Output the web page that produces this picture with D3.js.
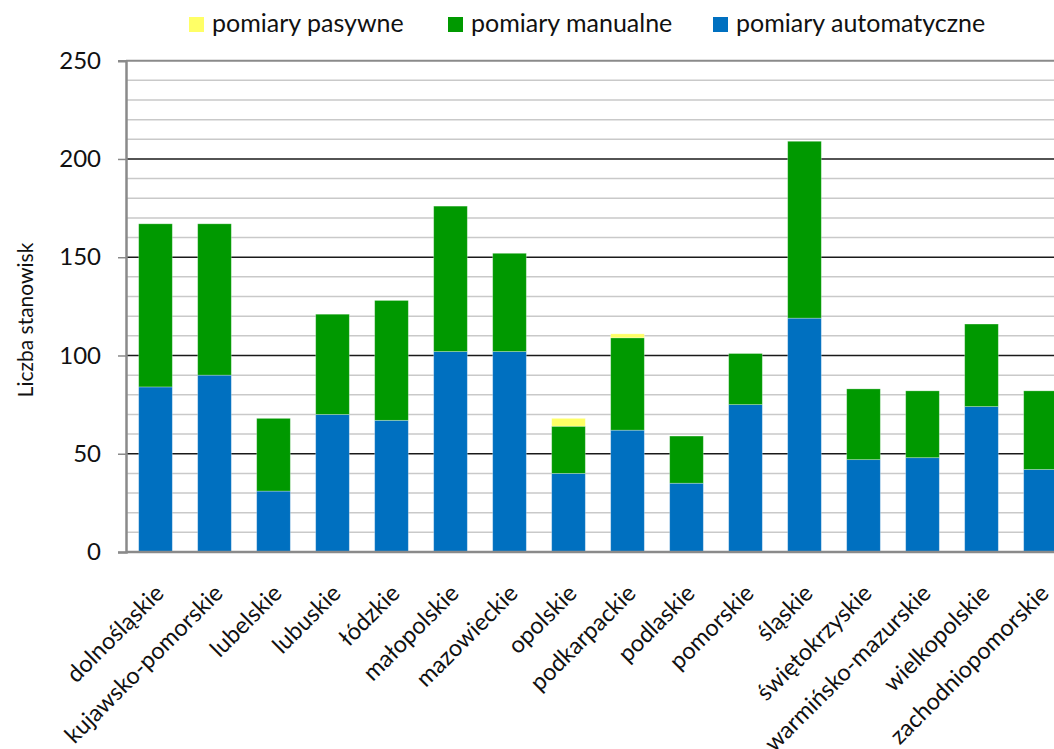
<!DOCTYPE html>
<html>
<head>
<meta charset="utf-8">
<script src="https://d3js.org/d3.v7.min.js"></script>
<style>
  body { margin: 0; background: #fff; }
  text { font-family: Lato, "Open Sans", sans-serif; fill: #111; }
</style>
</head>
<body>
<svg width="1054" height="749"></svg>
<script>
// data
var regions = ["dolnośląskie", "kujawsko-pomorskie", "lubelskie", "lubuskie", "łódzkie",
  "małopolskie", "mazowieckie", "opolskie", "podkarpackie", "podlaskie", "pomorskie",
  "śląskie", "świętokrzyskie", "warmińsko-mazurskie", "wielkopolskie", "zachodniopomorskie"];
var automatyczne = [84, 90, 31, 70, 67, 102, 102, 40, 62, 35, 75, 119, 47, 48, 74, 42];
var manualne     = [83, 77, 37, 51, 61, 74, 50, 24, 47, 24, 26, 90, 36, 34, 42, 40];
var pasywne      = [0, 0, 0, 0, 0, 0, 0, 4, 2, 0, 0, 0, 0, 0, 0, 0];
var yTicks = [0, 50, 100, 150, 200, 250];

var series = [
  {key: "automatyczne", label: "pomiary automatyczne", color: "#0070C0", values: automatyczne},
  {key: "manualne", label: "pomiary manualne", color: "#009900", values: manualne},
  {key: "pasywne", label: "pomiary pasywne", color: "#FFFF66", values: pasywne}
];

var svg = d3.select("svg");

// plot area (runs past the right edge, like the original)
var plot = {left: 126, right: 1070, top: 60.7, bottom: 552};

var x = d3.scaleBand()
          .domain(regions)
          .range([plot.left, plot.right])
          .paddingInner(0.43)
          .paddingOuter(0.215);

var y = d3.scaleLinear()
          .domain([0, 250])
          .range([plot.bottom, plot.top]);

// build rows for the stack
var rows = regions.map(function(r, i) {
  var row = {region: r};
  series.forEach(function(s) { row[s.key] = s.values[i]; });
  return row;
});

var stack = d3.stack().keys(series.map(function(s) { return s.key; }));
var layers = stack(rows);

// minor gridlines every 10
var grid = svg.append("g").attr("id", "grid");
grid.selectAll("line.minor")
    .data(d3.range(10, 250, 10).filter(function(v) { return v % 50 !== 0; }))
    .enter()
    .append("line")
    .attr("x1", plot.left)
    .attr("x2", 1054)
    .attr("y1", function(d) { return y(d); })
    .attr("y2", function(d) { return y(d); })
    .style("stroke", "#c9c9c9")
    .style("stroke-width", 1.5);

// major gridlines
grid.selectAll("line.major")
    .data([50, 100, 150, 200])
    .enter()
    .append("line")
    .attr("x1", plot.left)
    .attr("x2", 1054)
    .attr("y1", function(d) { return y(d); })
    .attr("y2", function(d) { return y(d); })
    .style("stroke", "#1a1a1a")
    .style("stroke-width", 1.5);

// top line at 250
grid.append("line")
    .attr("x1", plot.left)
    .attr("x2", 1054)
    .attr("y1", y(250))
    .attr("y2", y(250))
    .style("stroke", "#8a8a8a")
    .style("stroke-width", 2);

// bars
svg.append("g")
   .attr("id", "bars")
   .selectAll("g.layer")
   .data(layers)
   .enter()
   .append("g")
   .style("fill", function(d, i) { return series[i].color; })
   .selectAll("rect")
   .data(function(d) { return d.filter(function(p) { return p[1] > p[0]; }); })
   .enter()
   .append("rect")
   .attr("x", function(d) { return x(d.data.region); })
   .attr("width", x.bandwidth())
   .attr("y", function(d) { return y(d[1]); })
   .attr("height", function(d) { return y(d[0]) - y(d[1]); })
   .style("stroke", "rgba(255,255,255,0.35)")
   .style("stroke-width", 0.8);

// y axis
var yAxis = d3.axisLeft(y)
              .tickValues(yTicks)
              .tickSize(8)
              .tickPadding(17);

var ya = svg.append("g")
            .attr("transform", "translate(" + plot.left + ",0)")
            .call(yAxis);
ya.select(".domain").style("stroke", "#8a8a8a").style("stroke-width", 2.5);
ya.selectAll(".tick line").style("stroke", "#8a8a8a").style("stroke-width", 1.5);
ya.selectAll(".tick text")
  .style("font-size", "24px")
  .style("font-family", "Lato, sans-serif")
  .style("fill", "#111");

// x axis baseline
svg.append("line")
   .attr("x1", plot.left)
   .attr("x2", 1054)
   .attr("y1", plot.bottom)
   .attr("y2", plot.bottom)
   .style("stroke", "#8a8a8a")
   .style("stroke-width", 2.5);

// x labels, rotated
svg.append("g")
   .attr("id", "xlabels")
   .selectAll("text")
   .data(regions)
   .enter()
   .append("text")
   .attr("transform", function(d) {
     return "translate(" + (x(d) + x.bandwidth() / 2 + 4) + "," + 589 + ") rotate(-45)";
   })
   .attr("text-anchor", "end")
   .attr("dy", "0.35em")
   .style("font-size", "23.5px")
   .text(function(d) { return d; });

// y axis title
svg.append("text")
   .attr("transform", "translate(33,320) rotate(-90)")
   .attr("text-anchor", "middle")
   .style("font-size", "21px")
   .text("Liczba stanowisk");

// legend
var legendItems = [
  {label: "pomiary pasywne", color: "#FFFF66", x: 189},
  {label: "pomiary manualne", color: "#009900", x: 448},
  {label: "pomiary automatyczne", color: "#0070C0", x: 713}
];

var legend = svg.append("g").attr("id", "legend");
var item = legend.selectAll("g")
                 .data(legendItems)
                 .enter()
                 .append("g")
                 .attr("transform", function(d) { return "translate(" + d.x + ",0)"; });

item.append("rect")
    .attr("x", 0)
    .attr("y", 17)
    .attr("width", 15)
    .attr("height", 15)
    .style("fill", function(d) { return d.color; });

item.append("text")
    .attr("x", 23)
    .attr("y", 32)
    .style("font-size", "25px")
    .text(function(d) { return d.label; });
</script>
</body>
</html>
